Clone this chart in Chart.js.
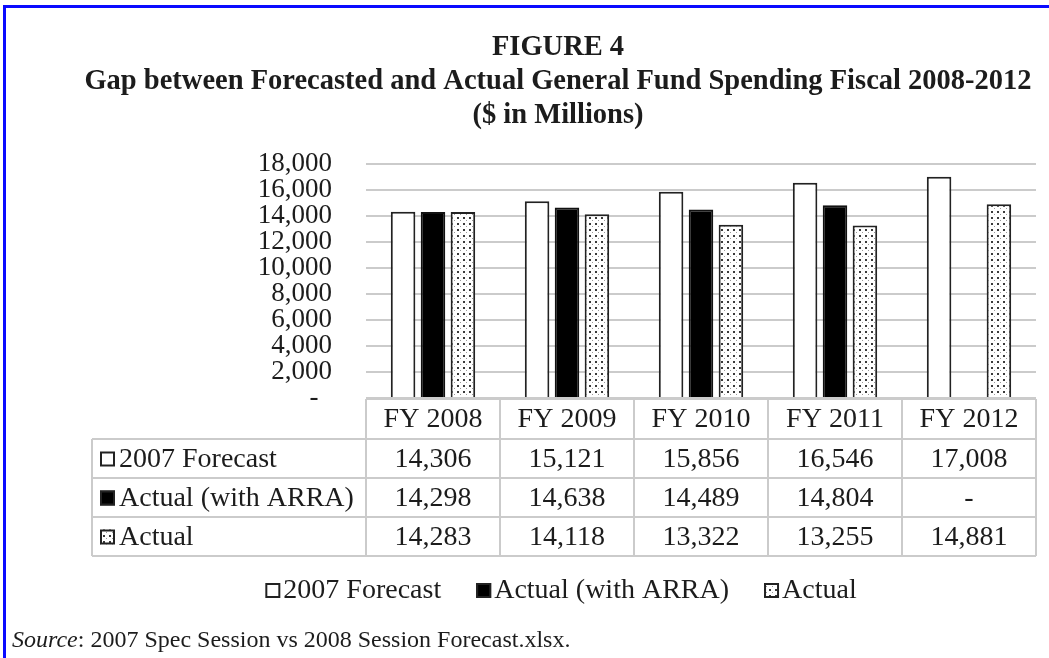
<!DOCTYPE html>
<html>
<head>
<meta charset="utf-8">
<script src="https://cdn.jsdelivr.net/npm/chart.js@4/dist/chart.umd.min.js"></script>
<style>
  html, body { margin: 0; padding: 0; background: #fff; overflow: hidden; }
  #frame { position: absolute; left: 3px; top: 5px; width: 2000px; height: 2000px;
           border-left: 3px solid #0a0aff; border-top: 3px solid #0a0aff; }
  #wrap { position: absolute; left: 0; top: 0; width: 1049px; height: 658px; }
</style>
</head>
<body>
<div id="frame"></div>
<div id="wrap"><canvas id="gapChart"></canvas></div>
<script>
const categories     = ['FY 2008', 'FY 2009', 'FY 2010', 'FY 2011', 'FY 2012'];
const forecast2007   = [14306, 15121, 15856, 16546, 17008];
const actualWithArra = [14298, 14638, 14489, 14804, null];
const actualSpend    = [14283, 14118, 13322, 13255, 14881];
const seriesLabels   = ['2007 Forecast', 'Actual (with ARRA)', 'Actual'];
const titleLines     = ['FIGURE 4',
  'Gap between Forecasted and Actual General Fund Spending Fiscal 2008-2012',
  '($ in Millions)'];

const SERIF = '"Liberation Serif", "Times New Roman", serif';
const INK = '#1c1c1c';
const RULE = '#cbcbcb';

// small dotted fill used for the "Actual" bars
function makeDotPattern() {
  const tile = document.createElement('canvas');
  tile.width = 6; tile.height = 6;
  const t = tile.getContext('2d');
  t.fillStyle = '#fff';
  t.fillRect(0, 0, 6, 6);
  t.fillStyle = '#3a3a3a';
  t.fillRect(1, 1, 2, 2);
  t.fillStyle = '#9a9a9a';
  t.fillRect(4, 4, 1, 1);
  return document.getElementById('gapChart').getContext('2d').createPattern(tile, 'repeat');
}
const dotFill = makeDotPattern();
const swatchFills = ['#ffffff', '#000000', dotFill];

const fmt = v => (v === null || v === undefined) ? '-' : v.toLocaleString('en-US');

function drawSwatch(ctx, x, cy, fill) {
  ctx.save();
  ctx.fillStyle = fill;
  ctx.fillRect(x, cy - 7, 15, 15);
  ctx.lineWidth = 2;
  ctx.strokeStyle = '#222';
  ctx.strokeRect(x + 1, cy - 6, 13, 13);
  ctx.restore();
}

// data table under the plot, legend and source note
const tablePlugin = {
  id: 'dataTable',
  afterDraw(chart) {
    const ctx = chart.ctx;
    const { left, right, bottom } = chart.chartArea;
    const colW = (right - left) / categories.length;
    const labelLeft = 92;
    const headTop = bottom + 1, headH = 40, rowH = 39;
    const rowsTop = headTop + headH;
    const rows = [forecast2007, actualWithArra, actualSpend];

    ctx.save();
    ctx.strokeStyle = RULE;
    ctx.lineWidth = 2;
    ctx.beginPath();
    ctx.moveTo(left, headTop); ctx.lineTo(right, headTop);
    for (let r = 0; r <= rows.length; r++) {
      ctx.moveTo(labelLeft, rowsTop + r * rowH); ctx.lineTo(right, rowsTop + r * rowH);
    }
    const tableBottom = rowsTop + rows.length * rowH;
    ctx.moveTo(labelLeft, rowsTop); ctx.lineTo(labelLeft, tableBottom);
    for (let c = 0; c <= categories.length; c++) {
      ctx.moveTo(left + c * colW, headTop); ctx.lineTo(left + c * colW, tableBottom);
    }
    ctx.stroke();

    ctx.fillStyle = INK;
    ctx.font = '28px ' + SERIF;
    ctx.textBaseline = 'middle';
    ctx.textAlign = 'center';
    const xScale = chart.scales.x;
    categories.forEach((cat, i) => {
      const cx = xScale.getPixelForValue(i);
      ctx.fillText(cat, cx, headTop + headH / 2 + 1);
      rows.forEach((row, r) => ctx.fillText(fmt(row[i]), cx, rowsTop + r * rowH + rowH / 2 + 1));
    });
    ctx.textAlign = 'left';
    seriesLabels.forEach((lab, r) => {
      const cy = rowsTop + r * rowH + rowH / 2;
      drawSwatch(ctx, 100, cy, swatchFills[r]);
      ctx.fillStyle = INK;
      ctx.fillText(lab, 119, cy + 1);
    });

    // legend, centred under the figure title
    const gap = 3, itemGap = 35;
    const widths = seriesLabels.map(l => 15 + gap + ctx.measureText(l).width);
    const total = widths.reduce((a, b) => a + b, 0) + itemGap * (widths.length - 1);
    let x = 561 - total / 2;
    const ly = 590;
    seriesLabels.forEach((lab, i) => {
      drawSwatch(ctx, x, ly, swatchFills[i]);
      ctx.fillStyle = INK;
      ctx.fillText(lab, x + 15 + gap, ly + 1);
      x += widths[i] + itemGap;
    });

    // source note
    ctx.font = 'italic 24px ' + SERIF;
    ctx.fillText('Source', 12, 641);
    const sw = ctx.measureText('Source').width;
    ctx.font = '24px ' + SERIF;
    ctx.fillText(': 2007 Spec Session vs 2008 Session Forecast.xlsx.', 12 + sw, 641);
    ctx.restore();
  },
};

new Chart(document.getElementById('gapChart'), {
  type: 'bar',
  data: {
    labels: categories,
    datasets: [
      { label: seriesLabels[0], data: forecast2007, backgroundColor: '#ffffff', borderColor: '#222', borderWidth: 2 },
      { label: seriesLabels[1], data: actualWithArra, backgroundColor: '#000000', borderColor: '#111', borderWidth: 2 },
      { label: seriesLabels[2], data: actualSpend, backgroundColor: dotFill, borderColor: '#222', borderWidth: 2 },
    ],
  },
  options: {
    responsive: true,
    maintainAspectRatio: false,
    animation: false,
    datasets: { bar: { categoryPercentage: 0.67, barPercentage: 0.82 } },
    // left padding only moves the title centre; the axis width below keeps the plot at x=366
    layout: { padding: { left: 80, right: 13, top: 0, bottom: 260 } },
    plugins: {
      legend: { display: false },
      tooltip: { enabled: false },
      title: {
        display: true,
        text: titleLines,
        color: INK,
        font: { family: SERIF, size: 28.5, weight: 'bold', lineHeight: 1.19 },
        padding: { top: 31, bottom: 31 },
      },
    },
    scales: {
      x: { display: false },
      y: {
        min: 0,
        max: 18000,
        afterFit(scale) { scale.width = 286; },
        border: { display: false },
        grid: { color: RULE, lineWidth: 2, drawTicks: false },
        ticks: {
          stepSize: 2000,
          autoSkip: false,
          padding: 34,
          color: INK,
          font: { family: SERIF, size: 27, lineHeight: 1 },
          callback: v => v === 0 ? '-  ' : v.toLocaleString('en-US'),
        },
      },
    },
  },
  plugins: [tablePlugin],
});
</script>
</body>
</html>
